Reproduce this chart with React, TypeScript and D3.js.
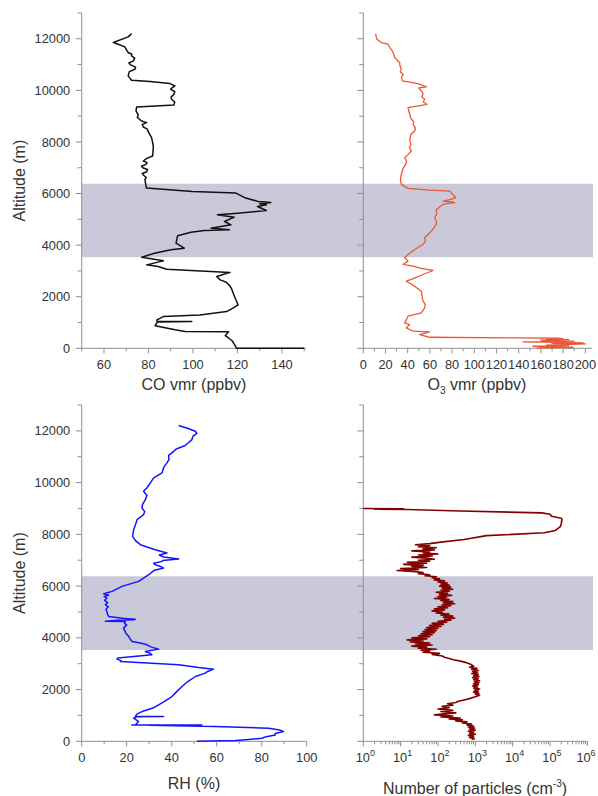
import React from 'react';
import * as d3 from 'd3';

// CO profile: altitude (m) / vmr (ppbv), read top to bottom
const coAlt = [12200, 12075, 11855, 11790, 11686, 11560, 11467, 11400, 11337, 11250, 11143, 11060, 10988, 10900, 10820, 10729, 10561, 10393, 10341, 10263, 10172, 10100, 10043, 9950, 9849, 9750, 9655, 9550, 9435, 9357, 9202, 9047, 8950, 8814, 8749, 8680, 8581, 8500, 8400, 8167, 7843, 7455, 7364, 7261, 7200, 7132, 7060, 7002, 6930, 6847, 6780, 6718, 6620, 6536, 6212, 6082, 6017, 5824, 5694, 5655, 5600, 5564, 5500, 5344, 5240, 5176, 5085, 4917, 4787, 4658, 4593, 4567, 4502, 4360, 4075, 3881, 3817, 3687, 3532, 3390, 3235, 3170, 3066, 2937, 2860, 2782, 2653, 2560, 2420, 2300, 2135, 1900, 1682, 1560, 1423, 1294, 1229, 1100, 1035, 1035, 1020, 875, 720, 655, 642, 487, 400, 293, 180, 100, 20, 0, 0];
const coVmr = [72.4, 70.9, 64.2, 66.4, 69.4, 70.2, 70.9, 72.5, 72.4, 73.8, 73.2, 71.2, 72.0, 74.2, 73.9, 71.4, 70.9, 72.4, 80.7, 89.7, 91.9, 90.6, 90.0, 91.8, 91.5, 90.2, 90.4, 91.8, 91.5, 74.7, 74.4, 75.4, 75.0, 76.9, 79.2, 77.2, 77.7, 79.5, 79.9, 81.4, 82.2, 81.9, 79.2, 77.7, 79.4, 78.9, 76.9, 77.4, 79.6, 79.2, 77.2, 77.7, 79.0, 78.4, 79.1, 99.8, 119.3, 123.7, 129.3, 135.0, 130, 133, 129, 133.0, 120.2, 111.0, 118.6, 114.2, 117.1, 108.1, 116.4, 105.1, 99.1, 93.1, 92.4, 96.1, 90.1, 82.7, 77.0, 86.7, 79.2, 84.4, 88.2, 116.6, 113.5, 110.7, 112.2, 115.0, 116.6, 117.4, 118.1, 119.2, 120.3, 118.0, 115.1, 103.1, 86.7, 83.8, 83.8, 99.5, 84, 83.0, 92.0, 96.5, 116.0, 114.5, 116.0, 117.6, 118.4, 119.0, 119.5, 119.5, 150];

// O3 profile
const o3Alt = [12204, 12100, 11984, 11855, 11790, 11650, 11531, 11400, 11272, 11150, 11078, 10950, 10820, 10720, 10625, 10500, 10367, 10263, 10134, 10100, 10043, 9950, 9849, 9750, 9655, 9550, 9461, 9331, 9200, 9073, 8900, 8780, 8685, 8550, 8426, 8300, 8102, 7900, 7780, 7649, 7500, 7390, 7250, 7132, 7000, 6873, 6700, 6549, 6355, 6200, 6135, 6096, 5950, 5838, 5760, 5708, 5680, 5644, 5610, 5579, 5385, 5200, 5061, 4900, 4803, 4650, 4544, 4400, 4285, 4150, 4026, 3832, 3638, 3508, 3379, 3250, 3185, 3100, 3017, 2861, 2700, 2602, 2409, 2215, 2000, 1826, 1700, 1567, 1373, 1244, 985, 920, 791, 662, 636, 532, 428, 403, 390, 377, 360, 340, 320, 299, 280, 260, 248, 230, 209, 190, 170, 144, 120, 100, 79, 60, 41, 20, 0];
const o3Vmr = [11.1, 11.5, 12.3, 16.2, 22.3, 24, 26.2, 27.5, 28.3, 31, 32.8, 33, 34.3, 33.2, 35.8, 34.5, 35.2, 49.3, 56.8, 50, 50.8, 53.0, 53.8, 52.5, 55.3, 54.0, 57.4, 40.3, 41, 41.8, 43, 45.5, 44.8, 47.0, 46.3, 43, 41.8, 43, 41.5, 43.3, 40, 37.3, 39, 38.2, 36, 35.2, 34, 33.4, 34.3, 40.3, 59.8, 77.8, 81, 83.2, 78, 71.8, 80, 82.3, 75, 71.8, 65.8, 66, 64.3, 66, 65.8, 63, 61.3, 58, 55.3, 56, 53.8, 46.3, 40.3, 37.3, 40.3, 35.8, 44.8, 52, 62.8, 53.8, 45, 38.8, 46.3, 52.3, 53, 53.8, 55.8, 55.3, 52.3, 40.3, 37.3, 41.8, 38.8, 44.8, 59.8, 50.8, 59.8, 140.9, 175, 179.9, 165, 185, 160, 161.9, 190, 165, 143.9, 180, 197.9, 170, 200, 179.9, 165, 185, 152.9, 175, 188.9, 160, 155.9];

// relative humidity profile
const rhAlt = [12206, 12100, 11987, 11900, 11800, 11664, 11550, 11432, 11300, 11148, 11050, 10900, 10761, 10600, 10374, 10181, 9987, 9800, 9664, 9500, 9342, 9150, 9019, 8880, 8761, 8568, 8400, 8181, 7923, 7750, 7601, 7407, 7278, 7200, 7123, 7046, 6990, 6955, 6880, 6826, 6760, 6697, 6600, 6440, 6181, 5988, 5795, 5704, 5650, 5600, 5537, 5450, 5360, 5279, 5200, 5100, 5020, 4900, 4827, 4760, 4720, 4698, 4680, 4640, 4633, 4560, 4500, 4375, 4200, 4053, 3960, 3860, 3800, 3730, 3640, 3563, 3473, 3400, 3344, 3279, 3220, 3176, 3120, 3086, 2957, 2850, 2789, 2700, 2634, 2505, 2300, 2118, 1900, 1731, 1550, 1409, 1300, 1150, 1050, 957, 957, 950, 892, 763, 700, 640, 634, 634, 620, 570, 540, 505, 440, 376, 300, 247, 180, 118, 60, 28, 0];
const rhVal = [43.1, 47, 50.5, 51.2, 49.5, 49.0, 47.5, 46.0, 42, 40.1, 38.6, 38.8, 37.9, 36.5, 35.7, 32.0, 30.5, 29, 27.5, 29, 28.3, 27, 26.8, 28, 27.5, 24.6, 24, 23.1, 22.6, 24, 26.1, 32.7, 37.9, 34.5, 36.4, 43.1, 36, 35.7, 32, 32.7, 35, 36.4, 32, 29.8, 25.3, 17.9, 13.5, 9.8, 12, 10, 11.2, 10.2, 11.5, 10.5, 11.8, 10.8, 11.2, 11.5, 12.0, 18, 23.8, 23.1, 16, 10.5, 19.4, 19, 20, 18.6, 19.5, 20.9, 21.5, 22.4, 26, 29.0, 31, 34.2, 28.3, 30.5, 31.2, 23.1, 16, 15.7, 17.5, 17.2, 43.1, 52, 58.6, 56, 54.9, 50.5, 47, 44.6, 42, 40.1, 37, 34.2, 32, 26.8, 24.5, 23.8, 36.4, 24.5, 23.1, 25.3, 24.5, 24, 22.3, 53.4, 30, 59.4, 70, 83.1, 88, 89.7, 86, 86.0, 82, 80.1, 73, 68.3, 51.2];

// particle number concentration profile (cm-3)
const pnAlt = [9000, 8985, 8975, 8960, 8900, 8830, 8780, 8700, 8620, 8590, 8400, 8300, 8150, 8060, 7950, 7800, 7700, 7640, 7600, 7560, 7520, 7480, 7440, 7400, 7360, 7320, 7280, 7240, 7200, 7160, 7120, 7080, 7040, 7000, 6960, 6920, 6880, 6840, 6800, 6760, 6720, 6680, 6640, 6600, 6560, 6520, 6480, 6440, 6400, 6360, 6320, 6280, 6240, 6200, 6160, 6120, 6080, 6040, 6000, 5960, 5920, 5880, 5840, 5800, 5760, 5720, 5680, 5640, 5600, 5560, 5520, 5480, 5440, 5400, 5360, 5320, 5280, 5240, 5200, 5160, 5120, 5080, 5040, 5000, 4960, 4920, 4880, 4840, 4800, 4760, 4720, 4680, 4640, 4600, 4560, 4520, 4480, 4440, 4400, 4360, 4320, 4280, 4240, 4200, 4160, 4120, 4080, 4040, 4000, 3960, 3920, 3880, 3840, 3800, 3760, 3720, 3680, 3640, 3600, 3560, 3520, 3480, 3440, 3400, 3360, 3300, 3250, 3200, 3150, 3100, 3050, 3000, 2950, 2900, 2860, 2820, 2780, 2740, 2700, 2660, 2620, 2580, 2540, 2500, 2460, 2420, 2380, 2340, 2300, 2260, 2220, 2180, 2140, 2100, 2060, 2020, 1980, 1940, 1900, 1860, 1820, 1780, 1740, 1700, 1650, 1600, 1550, 1500, 1450, 1400, 1350, 1300, 1250, 1200, 1150, 1100, 1060, 1020, 980, 940, 900, 860, 830, 790, 750, 710, 670, 630, 590, 550, 510, 470, 430, 390, 350, 310, 270, 230, 190, 150, 110, 70, 30, 0];
const pnNum = [1, 12, 2, 15, 400, 60000, 100000, 110000, 200000, 210000, 200000, 190000, 140000, 70000, 2000, 500, 120, 60, 25, 60, 30, 90, 40, 80, 20, 60, 40, 100, 30, 70, 20, 50, 80, 30, 60, 15, 50, 12, 40, 20, 50, 10, 30, 8, 25, 40, 30, 60, 45, 90, 70, 110, 80, 150, 100, 180, 120, 200, 110, 220, 130, 250, 120, 200, 90, 180, 110, 230, 100, 170, 80, 200, 120, 250, 140, 280, 130, 220, 100, 180, 80, 150, 70, 130, 90, 200, 120, 250, 140, 280, 150, 220, 100, 170, 70, 140, 60, 120, 50, 100, 45, 90, 40, 80, 35, 70, 30, 60, 20, 50, 15, 40, 18, 60, 25, 70, 20, 50, 30, 90, 35, 60, 40, 110, 70, 130, 150, 200, 260, 400, 550, 700, 800, 900, 700, 1100, 800, 1200, 850, 1150, 800, 1200, 900, 1250, 850, 1200, 900, 1300, 950, 1250, 900, 1200, 850, 1150, 900, 1300, 950, 1200, 900, 1250, 1000, 1300, 1100, 900, 700, 500, 350, 300, 180, 250, 130, 200, 100, 250, 120, 300, 150, 80, 250, 120, 400, 200, 450, 300, 600, 450, 800, 600, 900, 650, 950, 700, 1000, 650, 900, 700, 1000, 650, 900, 700, 950, 800];

// shaded layer
const layerBase = 3530;
const layerTop = 6380;

// ticks
const altMajor = [0, 2000, 4000, 6000, 8000, 10000, 12000];
const altMinor = [1000, 3000, 5000, 7000, 9000, 11000, 13000];
const altLabels = ['0', '2000', '4000', '6000', '8000', '10000', '12000'];
const coMajor = [60, 80, 100, 120, 140];
const coMinor = [50, 70, 90, 110, 130, 150];
const o3Major = [0, 20, 40, 60, 80, 100, 120, 140, 160, 180, 200];
const o3Minor = [10, 30, 50, 70, 90, 110, 130, 150, 170, 190];
const rhMajor = [0, 20, 40, 60, 80, 100];
const rhMinor = [10, 30, 50, 70, 90];
const pnExp = [0, 1, 2, 3, 4, 5, 6];

const FONT = '"Liberation Sans", Arial, sans-serif';
const AXIS = '#8f8f8f';
const TXT = '#333';

type Lin = d3.ScaleLinear<number, number> | d3.ScaleLogarithmic<number, number>;

function YAxis({ y, x0, labels }: { y: Lin; x0: number; labels: boolean }) {
  return (
    <g>
      <line x1={x0} x2={x0} y1={y(13000)} y2={y(0)} stroke={AXIS} />
      {altMajor.map(v => <line key={'M' + v} x1={x0 - 6} x2={x0} y1={y(v)} y2={y(v)} stroke={AXIS} />)}
      {altMinor.map(v => <line key={'m' + v} x1={x0 - 4} x2={x0} y1={y(v)} y2={y(v)} stroke={AXIS} />)}
      {labels && altMajor.map((v, i) => (
        <text key={'t' + v} x={x0 - 11.5} y={y(v)} dy="0.36em" textAnchor="end" fontSize={12.8} fill={TXT}>{altLabels[i]}</text>
      ))}
    </g>
  );
}

function XAxis({ x, y0, major, minor, x1 }: { x: Lin; y0: number; major: number[]; minor: number[]; x1: number }) {
  const [d0] = x.domain();
  return (
    <g>
      <line x1={x(d0)} x2={x1} y1={y0} y2={y0} stroke={AXIS} />
      {major.map(v => <line key={'M' + v} x1={x(v)} x2={x(v)} y1={y0} y2={y0 + 5} stroke={AXIS} />)}
      {minor.map(v => <line key={'m' + v} x1={x(v)} x2={x(v)} y1={y0} y2={y0 + 3} stroke={AXIS} />)}
      {major.map(v => (
        <text key={'t' + v} x={x(v)} y={y0 + 21} textAnchor="middle" fontSize={12.8} fill={TXT}>{v}</text>
      ))}
    </g>
  );
}

function profile(x: Lin, y: Lin, alt: number[], val: number[]) {
  const pts = d3.zip(alt, val) as [number, number][];
  return d3.line<[number, number]>().x(d => x(d[1])).y(d => y(d[0]))(pts) || '';
}

export default function App() {
  const yTop = d3.scaleLinear().domain([0, 13000]).range([348.3, 13]);
  const yBot = d3.scaleLinear().domain([0, 13000]).range([741.3, 405]);
  const xCO = d3.scaleLinear().domain([50, 150]).range([81.7, 304.2]);
  const xO3 = d3.scaleLinear().domain([0, 206]).range([363.3, 592]);
  const xRH = d3.scaleLinear().domain([0, 100]).range([81.7, 306.7]);
  const xPN = d3.scaleLog().domain([1, 1e6]).range([363.3, 587.3]);
  const pnMinor = d3.range(0, 6).flatMap(e => d3.range(2, 10).map(k => k * Math.pow(10, e)));

  return (
    <svg width={598} height={796} style={{ position: 'absolute', left: 0, top: 0, fontFamily: FONT }}>
      <rect width={598} height={796} fill="#fff" />
      {/* shaded layer */}
      <rect x={81.7} width={593 - 81.7} y={yTop(layerTop)} height={yTop(layerBase) - yTop(layerTop)} fill="#cac9da" />
      <rect x={81.7} width={593 - 81.7} y={yBot(layerTop)} height={yBot(layerBase) - yBot(layerTop)} fill="#cac9da" />

      {/* top left: CO */}
      <YAxis y={yTop} x0={81.7} labels={true} />
      <XAxis x={xCO} y0={348.3} major={coMajor} minor={coMinor} x1={306} />
      <path d={profile(xCO, yTop, coAlt, coVmr)} fill="none" stroke="#111" strokeWidth={1.5} strokeLinejoin="round" />
      <text x={194} y={390} textAnchor="middle" fontSize={16} fill={TXT}>CO vmr (ppbv)</text>
      <text transform={`translate(25,${(348.3 + 13) / 2}) rotate(-90)`} textAnchor="middle" fontSize={16} fill={TXT}>Altitude (m)</text>

      {/* top right: O3 */}
      <YAxis y={yTop} x0={363.3} labels={false} />
      <XAxis x={xO3} y0={348.3} major={o3Major} minor={o3Minor} x1={592} />
      <path d={profile(xO3, yTop, o3Alt, o3Vmr)} fill="none" stroke="#ec5634" strokeWidth={1.3} strokeLinejoin="round" />
      <text x={477} y={390} textAnchor="middle" fontSize={16} fill={TXT}>
        O<tspan fontSize={10} dy={4}>3</tspan><tspan dy={-4}> vmr (ppbv)</tspan>
      </text>

      {/* bottom left: RH */}
      <YAxis y={yBot} x0={81.7} labels={true} />
      <XAxis x={xRH} y0={741.3} major={rhMajor} minor={rhMinor} x1={306.7} />
      <path d={profile(xRH, yBot, rhAlt, rhVal)} fill="none" stroke="#1414ff" strokeWidth={1.5} strokeLinejoin="round" />
      <text x={194} y={789} textAnchor="middle" fontSize={16} fill={TXT}>RH (%)</text>
      <text transform={`translate(25,${(741.3 + 405) / 2}) rotate(-90)`} textAnchor="middle" fontSize={16} fill={TXT}>Altitude (m)</text>

      {/* bottom right: particles */}
      <YAxis y={yBot} x0={363.3} labels={false} />
      <g>
        <line x1={363.3} x2={587.3} y1={741.3} y2={741.3} stroke={AXIS} />
        {pnExp.map(e => <line key={'M' + e} x1={xPN(Math.pow(10, e))} x2={xPN(Math.pow(10, e))} y1={741.3} y2={746.3} stroke={AXIS} />)}
        {pnMinor.map(v => <line key={'m' + v} x1={xPN(v)} x2={xPN(v)} y1={741.3} y2={744.3} stroke={AXIS} />)}
        {pnExp.map(e => (
          <text key={'t' + e} x={Math.min(xPN(Math.pow(10, e)) + 2, 586)} y={762.3} textAnchor="middle" fontSize={12.8} fill={TXT}>
            10<tspan fontSize={9} dy={-6}>{e}</tspan>
          </text>
        ))}
      </g>
      <path d={profile(xPN, yBot, pnAlt, pnNum)} fill="none" stroke="#820000" strokeWidth={1.6} strokeLinejoin="round" />
      <text x={475} y={794} textAnchor="middle" fontSize={16} fill={TXT}>
        Number of particles (cm<tspan fontSize={10} dy={-7}>-3</tspan><tspan dy={7}>)</tspan>
      </text>
    </svg>
  );
}
